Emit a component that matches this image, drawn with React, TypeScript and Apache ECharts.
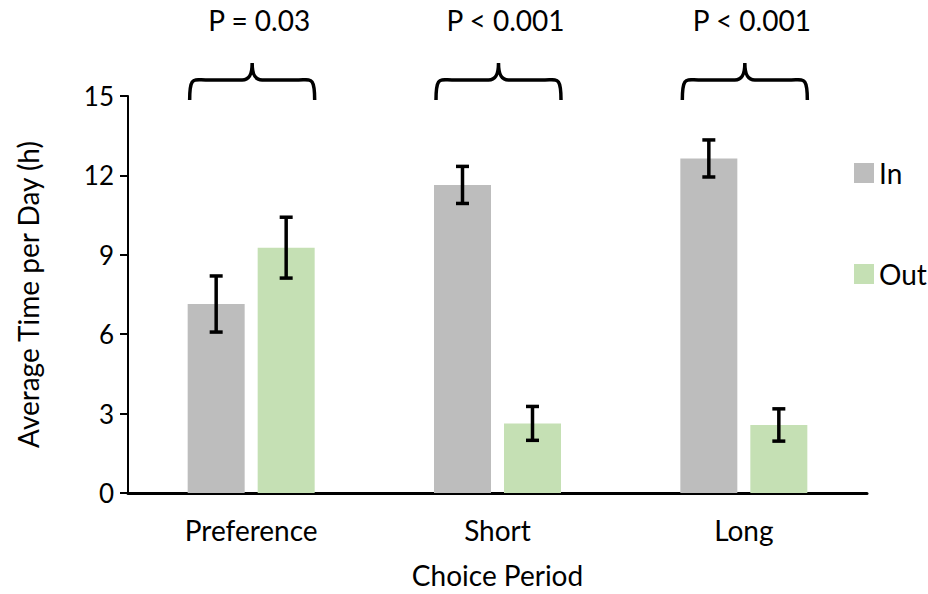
import React, { useEffect, useRef } from "react";
import * as echarts from "echarts";

const categories = ["Preference", "Short", "Long"];
const inValues = [7.14, 11.64, 12.64];
const inErrors = [1.06, 0.7, 0.7];
const outValues = [9.27, 2.63, 2.57];
const outErrors = [1.15, 0.64, 0.61];
const pLabels = ["P = 0.03", "P < 0.001", "P < 0.001"];
const yMin = 0;
const yMax = 15;
const yInterval = 3;

const FONT = "Lato, 'Noto Sans', sans-serif";
const FS = 28;
const BAR_W = 57;
const BAR_GAP = 13;
const OFFSET = (BAR_W + BAR_GAP) / 2;
const TEXT = "#000";

function errRender(offset: number) {
  return (params: any, api: any) => {
    const x = api.value(0);
    const v = api.value(1);
    const e = api.value(2);
    const top = api.coord([x, v + e]);
    const bot = api.coord([x, v - e]);
    const cx = top[0] + offset;
    const cap = 6.5;
    const st = { stroke: "#000", lineWidth: 3.5 };
    return {
      type: "group",
      children: [
        { type: "line", shape: { x1: cx, y1: top[1], x2: cx, y2: bot[1] }, style: st },
        { type: "line", shape: { x1: cx - cap, y1: top[1], x2: cx + cap, y2: top[1] }, style: st },
        { type: "line", shape: { x1: cx - cap, y1: bot[1], x2: cx + cap, y2: bot[1] }, style: st },
      ],
    };
  };
}

function braceRender(params: any, api: any) {
  const p = api.coord([api.value(0), yMax]);
  const cx = p[0] + 1;
  const y0 = p[1];
  const h = 62.5;
  const yl = y0 - 16;
  const yb = y0 + 4;
  const yt = y0 - 33;
  const d =
    `M ${cx - h} ${yb} ` +
    `C ${cx - h} ${yl - 4} ${cx - h + 4} ${yl} ${cx - h + 16} ${yl} ` +
    `L ${cx - 10} ${yl} ` +
    `C ${cx - 3} ${yl} ${cx} ${yl - 5} ${cx} ${yt} ` +
    `C ${cx} ${yl - 5} ${cx + 3} ${yl} ${cx + 10} ${yl} ` +
    `L ${cx + h - 16} ${yl} ` +
    `C ${cx + h - 4} ${yl} ${cx + h} ${yl - 4} ${cx + h} ${yb}`;
  return {
    type: "group",
    children: [
      {
        type: "path",
        shape: { pathData: d },
        style: { stroke: "#000", lineWidth: 3.5, fill: null },
      },
      {
        type: "text",
        x: p[0] + 8,
        y: y0 - 76,
        style: {
          text: pLabels[params.dataIndex],
          fontSize: FS,
          fontFamily: FONT,
          fill: TEXT,
          align: "center",
          verticalAlign: "middle",
        },
      },
    ],
  };
}

export default function App() {
  const ref = useRef<HTMLDivElement>(null);
  useEffect(() => {
    document.body.style.margin = "0";
    const chart = echarts.init(ref.current!, null, { renderer: "svg" });
    chart.setOption({
      animation: false,
      backgroundColor: "#fff",
      textStyle: { fontFamily: FONT },
      grid: { left: 128, right: 61, top: 96, bottom: 100 },
      legend: {
        orient: "vertical",
        left: 849,
        top: 154,
        data: ["In", "Out"],
        icon: "rect",
        itemWidth: 20,
        itemHeight: 20,
        itemGap: 73,
        textStyle: { fontSize: FS, color: TEXT, fontFamily: FONT, padding: [0, 0, 0, 0] },
      },
      xAxis: {
        type: "category",
        data: categories,
        name: "Choice Period",
        nameLocation: "middle",
        nameGap: 68,
        nameTextStyle: { fontSize: FS, color: TEXT, fontFamily: FONT },
        axisLine: { lineStyle: { color: "#000", width: 3 } },
        axisTick: { show: false },
        axisLabel: { fontSize: FS, color: TEXT, margin: 23, fontFamily: FONT },
      },
      yAxis: {
        type: "value",
        min: yMin,
        max: yMax,
        interval: yInterval,
        name: "Average Time per Day (h)",
        nameLocation: "middle",
        nameGap: 86,
        nameTextStyle: { fontSize: FS, color: TEXT, fontFamily: FONT },
        axisLine: { show: true, lineStyle: { color: "#000", width: 2 } },
        axisTick: { show: true, length: 8, lineStyle: { color: "#000", width: 2 } },
        axisLabel: { fontSize: 26, color: TEXT, margin: 14, fontFamily: FONT },
        splitLine: { show: false },
      },
      series: [
        {
          name: "In",
          type: "bar",
          data: inValues,
          barWidth: BAR_W,
          barGap: `${(BAR_GAP / BAR_W) * 100}%`,
          itemStyle: { color: "#BDBDBD" },
        },
        {
          name: "Out",
          type: "bar",
          data: outValues,
          barWidth: BAR_W,
          barGap: `${(BAR_GAP / BAR_W) * 100}%`,
          itemStyle: { color: "#C5E0B4" },
        },
        {
          name: "In error",
          type: "custom",
          renderItem: errRender(-OFFSET),
          data: categories.map((c, i) => [i, inValues[i], inErrors[i]]),
          encode: { x: 0, y: 1 },
          z: 5,
        },
        {
          name: "Out error",
          type: "custom",
          renderItem: errRender(OFFSET),
          data: categories.map((c, i) => [i, outValues[i], outErrors[i]]),
          encode: { x: 0, y: 1 },
          z: 5,
        },
        {
          name: "Significance",
          type: "custom",
          renderItem: braceRender,
          data: categories.map((c, i) => [i, yMax]),
          encode: { x: 0, y: 1 },
          clip: false,
          z: 5,
        },
      ],
    });
    return () => chart.dispose();
  }, []);
  return <div ref={ref} style={{ width: 928, height: 594 }} />;
}
